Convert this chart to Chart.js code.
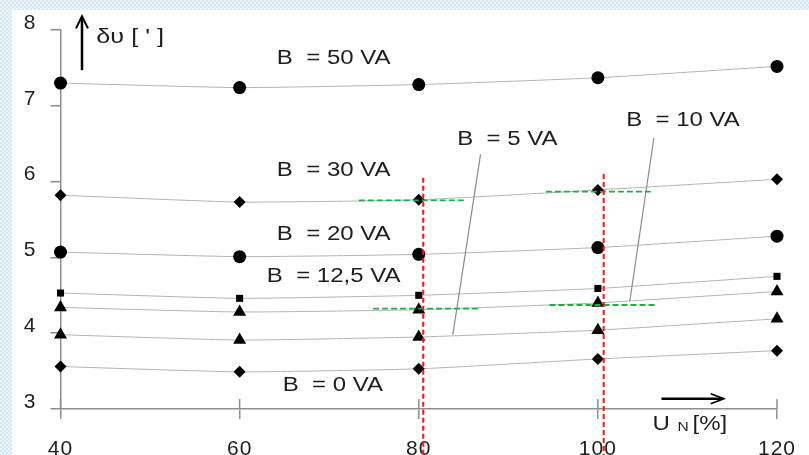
<!DOCTYPE html>
<html>
<head>
<meta charset="utf-8">
<script src="https://cdn.jsdelivr.net/npm/chart.js@4.4.1/dist/chart.umd.min.js"></script>
<style>
  html, body { margin: 0; padding: 0; }
  body {
    width: 809px; height: 455px; overflow: hidden; position: relative;
    background: repeating-conic-gradient(#d3e6f7 0 25%, #eef6fd 0 50%) 0 0 / 4px 4px;
  }
  #wrap { position: absolute; left: 12px; top: 10px; width: 797px; height: 445px; background: #fff; }
</style>
</head>
<body>
<div id="wrap"><canvas id="chart"></canvas></div>
<script>
// measured values, U_N [%] against delta_U [']
const uN = [40, 60, 80, 100, 120];
const b0 = [3.56, 3.49, 3.53, 3.66, 3.77];
const b5 = [3.98, 3.91, 3.95, 4.04, 4.19];
const b10 = [4.34, 4.28, 4.31, 4.40, 4.55];
const b125 = [4.53, 4.46, 4.50, 4.59, 4.75];
const b20 = [5.07, 5.01, 5.04, 5.13, 5.28];
const b30 = [5.82, 5.73, 5.76, 5.89, 6.03];
const b50 = [7.30, 7.24, 7.28, 7.37, 7.52];

// red markers (vertical) and green read-off lines (horizontal)
const redX = [80.5, 100.65];
const redTop = [6.05, 6.1];
const redBottom = [2.3, 2.3];
const greenY = [5.753, 5.867, 4.323, 4.372];
const greenFrom = [73.3, 94.2, 74.9, 94.6];
const greenTo = [85.1, 105.9, 86.7, 106.5];

// leader lines of the B = 5 VA and B = 10 VA labels
const leaderX1 = [86.9, 106.25];
const leaderY1 = [6.36, 6.575];
const leaderX2 = [83.8, 103.57];
const leaderY2 = [3.976, 4.425];

// curve labels
const labelText = ['B  = 50 VA', 'B  = 30 VA', 'B  = 20 VA', 'B  = 12,5 VA', 'B  = 0 VA', 'B  = 5 VA', 'B  = 10 VA'];
const labelX = [70.5, 70.5, 70.5, 70.5, 70.4, 89.9, 109.5];
const labelY = [7.63, 6.15, 5.30, 4.75, 3.31, 6.56, 6.81];

const yTicks = [3, 4, 5, 6, 7, 8];
const xTicks = [40, 60, 80, 100, 120];

const axisColor = "#8f8f8f";
const textColor = "#1e1e1e";
const fontName = '"Liberation Sans", Arial, sans-serif';

function pts(xs, ys) {
    return xs.map((x, i) => ({ x: x, y: ys[i] }));
}

function curve(values, style, radius) {
    return {
        data: pts(uN, values),
        borderColor: "#b3b3b3",
        borderWidth: 1,
        tension: 0.15,
        pointStyle: style,
        pointRadius: radius,
        pointBackgroundColor: "#000",
        pointBorderColor: "#000",
        pointBorderWidth: 0,
        clip: false,
        order: 2
    };
}

const datasets = [];

redX.forEach((x, i) => {
    datasets.push({
        data: [{ x: x, y: redTop[i] }, { x: x, y: redBottom[i] }],
        borderColor: "#ff1414",
        borderWidth: 2,
        borderDash: [5, 3],
        pointRadius: 0,
        clip: false,
        order: 0
    });
});

greenY.forEach((y, i) => {
    datasets.push({
        data: [{ x: greenFrom[i], y: y }, { x: greenTo[i], y: y }],
        borderColor: "#1fae45",
        borderWidth: 1.8,
        borderDash: [6, 3],
        pointRadius: 0,
        order: 0
    });
});

leaderX1.forEach((x, i) => {
    datasets.push({
        data: [{ x: x, y: leaderY1[i] }, { x: leaderX2[i], y: leaderY2[i] }],
        borderColor: "#8a8a8a",
        borderWidth: 1.2,
        pointRadius: 0,
        order: 1
    });
});

datasets.push(curve(b50, "circle", 6.5));
datasets.push(curve(b30, "rectRot", 6));
datasets.push(curve(b20, "circle", 6.5));
datasets.push(curve(b125, "rect", 5));
datasets.push(curve(b10, "triangle", 7.5));
datasets.push(curve(b5, "triangle", 7.5));
datasets.push(curve(b0, "rectRot", 6));

// text drawn a bit wider, like the scanned figure
function wideText(ctx, str, x, y, size, align) {
    ctx.save();
    ctx.translate(x, y);
    ctx.scale(1.2, 1);
    ctx.font = size + "px " + fontName;
    ctx.fillStyle = textColor;
    ctx.textAlign = align || "center";
    ctx.textBaseline = "middle";
    ctx.fillText(str, 0, 0);
    ctx.restore();
}

const extras = {
    id: "extras",
    beforeDraw(chart) {
        chart.ctx.letterSpacing = "1px";
    },
    afterDraw(chart) {
        const ctx = chart.ctx;
        const xs = chart.scales.x;
        const ys = chart.scales.y;
        const area = chart.chartArea;
        ctx.letterSpacing = "0px";

        // tick marks also stand above the x axis
        ctx.save();
        ctx.strokeStyle = axisColor;
        ctx.lineWidth = 1.5;
        xs.ticks.forEach((t) => {
            const px = xs.getPixelForValue(t.value);
            ctx.beginPath();
            ctx.moveTo(px, area.bottom);
            ctx.lineTo(px, area.bottom - 10);
            ctx.stroke();
        });
        ctx.restore();

        labelText.forEach((t, i) => {
            wideText(ctx, t, xs.getPixelForValue(labelX[i]), ys.getPixelForValue(labelY[i]), 20);
        });

        // axis arrows
        ctx.save();
        ctx.strokeStyle = "#000";
        ctx.lineWidth = 2.5;
        const ax = xs.getPixelForValue(42.4);
        const aTop = ys.getPixelForValue(8.18);
        const aBot = ys.getPixelForValue(7.47);
        ctx.beginPath();
        ctx.moveTo(ax, aBot);
        ctx.lineTo(ax, aTop + 1);
        ctx.stroke();
        ctx.lineWidth = 2;
        ctx.beginPath();
        ctx.moveTo(ax - 6, aTop + 12);
        ctx.lineTo(ax, aTop);
        ctx.lineTo(ax + 6, aTop + 12);
        ctx.stroke();

        const hy = ys.getPixelForValue(3.135);
        const hL = xs.getPixelForValue(107.1);
        const hR = xs.getPixelForValue(114.05);
        ctx.lineWidth = 2.5;
        ctx.beginPath();
        ctx.moveTo(hL, hy);
        ctx.lineTo(hR - 1, hy);
        ctx.stroke();
        ctx.lineWidth = 1.8;
        ctx.beginPath();
        ctx.moveTo(hR - 13, hy - 5);
        ctx.lineTo(hR, hy);
        ctx.lineTo(hR - 13, hy + 5);
        ctx.stroke();
        ctx.restore();

        // axis titles
        wideText(ctx, "\u03b4\u03c5 [ ' ]", xs.getPixelForValue(44.0), ys.getPixelForValue(7.9), 21, "left");
        const ux = xs.getPixelForValue(106.1);
        const uy = ys.getPixelForValue(2.79);
        wideText(ctx, "U", ux, uy, 20, "left");
        wideText(ctx, "N", ux + 25, uy + 3, 13, "left");
        wideText(ctx, "[%]", ux + 40, uy, 20, "left");
    }
};

new Chart(document.getElementById("chart"), {
    type: "line",
    data: { datasets: datasets },
    options: {
        responsive: true,
        maintainAspectRatio: false,
        animation: false,
        layout: { padding: { top: 20, right: 32, left: 0, bottom: 0 } },
        plugins: {
            legend: { display: false },
            tooltip: { enabled: false }
        },
        scales: {
            x: {
                type: "linear",
                min: 40,
                max: 120,
                afterFit: (s) => { s.height = 46; s.paddingLeft = 0; s.paddingRight = 0; },
                afterBuildTicks: (s) => { s.ticks = xTicks.map((v) => ({ value: v })); },
                border: { color: axisColor, width: 1.5 },
                grid: { drawOnChartArea: false, drawTicks: true, tickLength: 10, color: axisColor, lineWidth: 1.5 },
                ticks: {
                    padding: 18,
                    color: textColor,
                    font: { family: fontName, size: 21 }
                }
            },
            y: {
                min: 3,
                max: 8,
                afterFit: (s) => { s.width = 48.5; s.paddingTop = 0; s.paddingBottom = 0; },
                afterBuildTicks: (s) => { s.ticks = yTicks.map((v) => ({ value: v })); },
                border: { color: axisColor, width: 1.5 },
                grid: { drawOnChartArea: false, drawTicks: true, tickLength: 10, color: axisColor, lineWidth: 1.5 },
                ticks: {
                    padding: 14,
                    labelOffset: -7,
                    color: textColor,
                    font: { family: fontName, size: 21 }
                }
            }
        }
    },
    plugins: [extras]
});
</script>
</body>
</html>
